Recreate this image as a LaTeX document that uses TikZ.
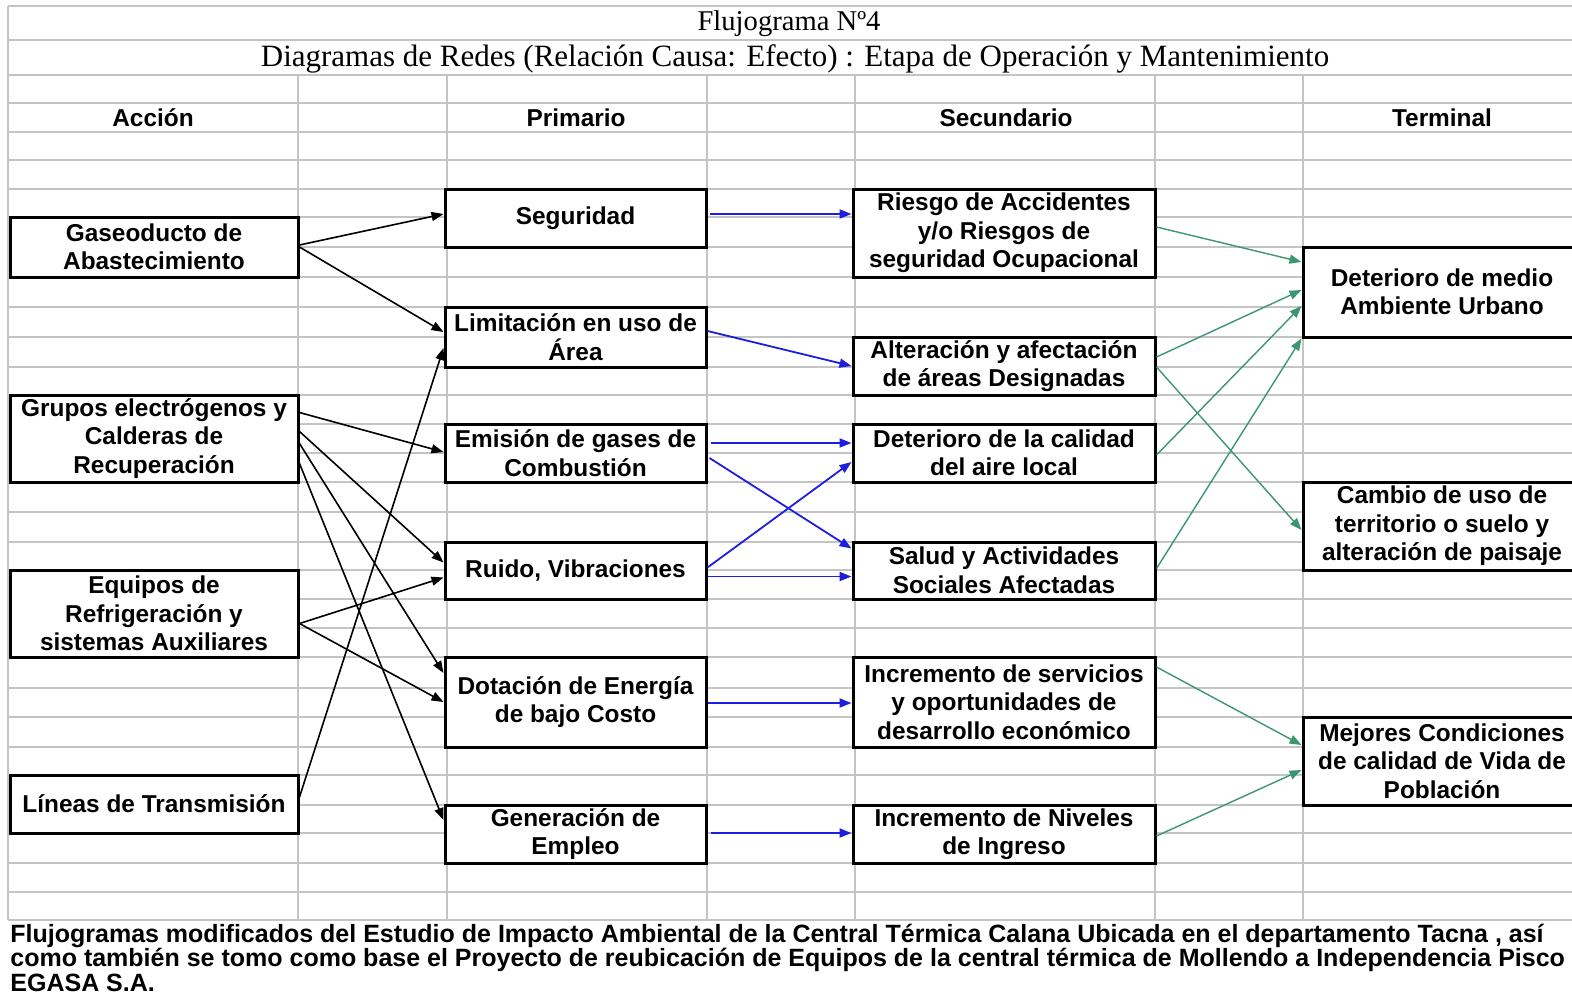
\documentclass[tikz,border=0pt]{standalone}
\usepackage{fontspec}
\newfontfamily\arialf{Liberation Sans}
\newfontfamily\timesf{Liberation Serif}
\usetikzlibrary{arrows.meta,calc}
\definecolor{gridgray}{RGB}{196,196,196}
\definecolor{linkblue}{RGB}{30,30,225}
\definecolor{linkgreen}{RGB}{60,150,112}
\newcommand\bxfont{\arialf\bfseries\fontsize{12.2}{14.25}\selectfont}

\begin{document}
\begin{tikzpicture}[x=0.5pt,y=-0.5pt,
  box/.style={draw=black, line width=1.5pt, fill=white, inner sep=0pt, align=center, font=\bxfont},
  grid/.style={draw=gridgray, line width=0.6pt},
  act/.style={box, minimum width=144pt},
  pri/.style={box, minimum width=130.5pt},
  sec/.style={box, minimum width=151pt},
  ter/.style={box, minimum width=139pt},
  arr/.style={-{Triangle[length=6pt,width=4.5pt]}},
  blk/.style={arr, draw=black, line width=0.8pt},
  blu/.style={arr, draw=linkblue, line width=0.9pt},
  grn/.style={arr, draw=linkgreen, line width=0.7pt},
  head/.style={font=\bxfont, inner sep=0pt},
]
\useasboundingbox (0,0) rectangle (1572,1001);
\clip (0,0) rectangle (1572,1001);
\fill[white] (0,0) rectangle (1572,1001);

% spreadsheet grid
\foreach \y in {6,40,75,103,132,160,189,217,247,277,307,337,367,395,424,453,482,512,542,570,599,628,657,688,717,747,775,805,833,863,892,920}
  \draw[grid] (8,\y) -- (1572,\y);
\draw[grid] (8,6) -- (8,920);
\foreach \x in {298,447,707,855,1155,1303}
  \draw[grid] (\x,75) -- (\x,920);

% titles
\node[font=\timesf\fontsize{14.3}{17}\selectfont, inner sep=0pt] (title) at (789,24) {Flujograma Nº4};
\node[font=\timesf\fontsize{15.5}{18}\selectfont, inner sep=0pt] (subtitle) at (795,59)
  {Diagramas de Redes (Relación Causa: Efecto) : Etapa de Operación y Mantenimiento};

% column headers
\node[head] (hacc) at (153,117.5) {Acción};
\node[head] (hpri) at (576,117.5) {Primario};
\node[head] (hsec) at (1006,117.5) {Secundario};
\node[head] (hter) at (1442,117.5) {Terminal};

% actions
\node[act, minimum height=30pt]   (gas) at (154,247)   {Gaseoducto de\\Abastecimiento};
\node[act, minimum height=43.5pt] (gru) at (154,438.5) {Grupos electrógenos y\\Calderas de\\Recuperación};
\node[act, minimum height=43.5pt] (equ) at (154,613.5) {Equipos de\\Refrigeración y\\sistemas Auxiliares};
\node[act, minimum height=29pt]   (lin) at (154,804)   {Líneas de Transmisión};

% primary effects
\node[pri, minimum height=29pt]   (seg) at (575.5,218)   {Seguridad};
\node[pri, minimum height=30pt]   (lim) at (575.5,337)   {Limitación en uso de\\Área};
\node[pri, minimum height=29pt]   (emi) at (575.5,453)   {Emisión de gases de\\Combustión};
\node[pri, minimum height=28.5pt] (rui) at (575.5,570.5) {Ruido, Vibraciones};
\node[pri, minimum height=45pt]   (dot) at (575.5,702)   {Dotación de Energía\\de bajo Costo};
\node[pri, minimum height=29pt]   (gen) at (575.5,834)   {Generación de\\Empleo};

% secondary effects
\node[sec, minimum height=44pt]   (rie) at (1004,233)   {Riesgo de Accidentes\\y/o Riesgos de\\seguridad Ocupacional};
\node[sec, minimum height=29pt]   (alt) at (1004,366)   {Alteración y afectación\\de áreas Designadas};
\node[sec, minimum height=29pt]   (det) at (1004,453)   {Deterioro de la calidad\\del aire local};
\node[sec, minimum height=28.5pt] (sal) at (1004,570.5) {Salud y Actividades\\Sociales Afectadas};
\node[sec, minimum height=45pt]   (inc) at (1004,702)   {Incremento de servicios\\y oportunidades de\\desarrollo económico};
\node[sec, minimum height=29pt]   (niv) at (1004,834)   {Incremento de Niveles\\de Ingreso};

% terminal effects
\node[ter, minimum height=45pt] (med) at (1442,292) {Deterioro de medio\\Ambiente Urbano};
\node[ter, minimum height=44pt] (cam) at (1442,526) {Cambio de uso de\\territorio o suelo y\\alteración de paisaje};
\node[ter, minimum height=44pt] (mej) at (1442,761) {Mejores Condiciones\\de calidad de Vida de\\Población};

% action -> primary
\draw[blk] ($(gas.east)+(0,-2)$)   -- ($(seg.west)+(0,-4)$);
\draw[blk] ($(gas.east)+(0,0)$)    -- ($(lim.west)+(0,-5)$);
\draw[blk] ($(gru.east)+(0,-26)$)  -- ($(emi.west)+(0,-1)$);
\draw[blk] ($(gru.east)+(0,-7)$)   -- ($(rui.west)+(0,-8)$);
\draw[blk] ($(gru.east)+(0,5)$)    -- ($(dot.west)+(0,-29)$);
\draw[blk] ($(gru.east)+(-2,20)$)  -- ($(gen.west)+(0,-14)$);
\draw[blk] ($(equ.east)+(0,10)$)   -- ($(rui.west)+(0,7)$);
\draw[blk] ($(equ.east)+(0,10)$)   -- ($(dot.west)+(0,0)$);
\draw[blk] ($(lin.east)+(0,-7)$)   -- ($(lim.west)+(0,11)$);

% primary -> secondary
\draw[blu] ($(seg.east)+(2,-4)$)   -- ($(rie.west)+(0,-19)$);
\draw[blu] ($(lim.east)+(0,-6)$)   -- ($(alt.west)+(0,0)$);
\draw[blu] ($(emi.east)+(3,-10)$)  -- ($(det.west)+(0,-10)$);
\draw[blu] ($(emi.east)+(2,5)$)    -- ($(sal.west)+(0,-22)$);
\draw[blu] ($(rui.east)+(0,-3)$)   -- ($(det.west)+(0,9)$);
\draw[blu] ($(rui.east)+(0,6)$)    -- ($(sal.west)+(0,6)$);
\draw[blu] ($(dot.east)+(0,1)$)    -- ($(inc.west)+(0,1)$);
\draw[blu] ($(gen.east)+(3,-1)$)   -- ($(niv.west)+(0,-1)$);

% secondary -> terminal
\draw[grn] ($(rie.east)+(0,-6)$)   -- ($(med.west)+(0,-30)$);
\draw[grn] ($(alt.east)+(0,-9)$)   -- ($(med.west)+(0,-2)$);
\draw[grn] ($(alt.east)+(0,1)$)    -- ($(cam.west)+(0,4)$);
\draw[grn] ($(det.east)+(0,2)$)    -- ($(med.west)+(0,14)$);
\draw[grn] ($(sal.east)+(0,-2)$)   -- (med.south west);
\draw[grn] ($(inc.east)+(0,-35)$)  -- ($(mej.west)+(0,-16)$);
\draw[grn] ($(niv.east)+(0,2)$)    -- ($(mej.west)+(0,9)$);

% source note (anchored on the baseline of its last line)
\node[anchor=base west, align=left, inner sep=0pt,
      font=\arialf\bfseries\fontsize{12.5}{12.25}\selectfont] (note) at (10,991)
  {Flujogramas modificados del Estudio de Impacto Ambiental de la Central Térmica Calana Ubicada en el departamento Tacna , así\\
   como también se tomo como base el Proyecto de reubicación de Equipos de la central térmica de Mollendo a Independencia Pisco\\
   EGASA S.A.};
\end{tikzpicture}
\end{document}
